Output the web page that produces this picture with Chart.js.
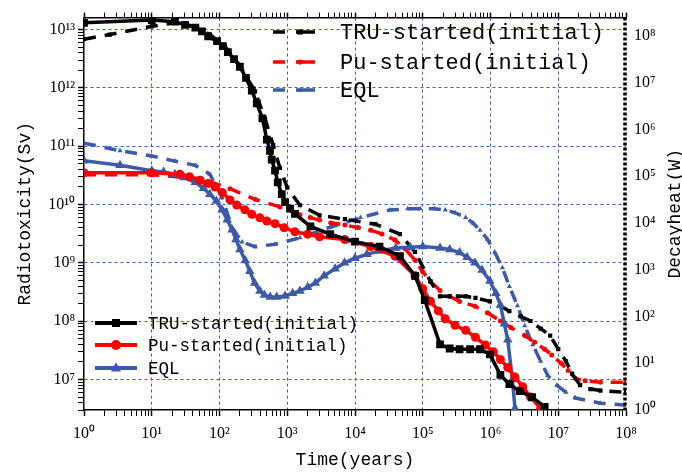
<!DOCTYPE html>
<html lang="en">
<head>
<meta charset="UTF-8">
<title>Radiotoxicity and decay heat</title>
<script src="https://cdn.jsdelivr.net/npm/chart.js"></script>
<style>
  html, body { margin: 0; padding: 0; background: #fff; }
</style>
</head>
<body>
<canvas id="chart" width="682" height="473"></canvas>
<script>
// series names (both legends use the same three)
const seriesNames = ['TRU-started(initial)', 'Pu-started(initial)', 'EQL'];

// radiotoxicity (Sv), left axis -- time in years
const truToxTime = [1, 10, 22, 31, 44, 55, 68, 92, 112, 133, 164, 200, 246, 300, 355, 430, 500, 556, 590, 660, 725, 830, 930, 1100, 1300, 2200, 4300, 1e4, 2.3e4, 4.6e4, 7.7e4, 1.07e5, 1.8e5, 2.5e5, 3.5e5, 5e5, 7e5, 9.8e5, 1.4e6, 1.9e6, 2.7e6, 4.1e6, 6.3e6];
const truTox = [1.3e13, 1.45e13, 1.36e13, 1.2e13, 1.08e13, 9.3e12, 7.6e12, 6.3e12, 5.2e12, 4.1e12, 3.1e12, 2.3e12, 1.48e12, 9e11, 5.4e11, 3e11, 1.3e11, 8.3e10, 5.9e10, 3.8e10, 2.4e10, 1.5e10, 1.1e10, 8.5e9, 6.9e9, 4.2e9, 3.1e9, 2.3e9, 1.9e9, 1.3e9, 6e8, 2.3e8, 4e7, 3.4e7, 3.3e7, 3.3e7, 3.3e7, 2.7e7, 1.2e7, 8.3e6, 6.3e6, 5e6, 3.4e6];

const puToxTime = [1, 10, 26, 36, 52, 68, 86, 110, 143, 180, 237, 300, 395, 500, 660, 900, 1300, 2000, 3000, 7100, 1.7e4, 3.9e4, 7.7e4, 1e5, 1.3e5, 1.7e5, 2.15e5, 3e5, 4.3e5, 6e5, 8.4e5, 1.1e6, 1.4e6, 1.8e6, 2.3e6, 3e6, 3.9e6, 5.5e6];
const puTox = [3.5e10, 3.5e10, 3.3e10, 3.0e10, 2.6e10, 2.3e10, 2e10, 1.6e10, 1.2e10, 9.8e9, 8.1e9, 6.8e9, 5.9e9, 5.2e9, 4.7e9, 4e9, 3.4e9, 3.1e9, 2.8e9, 2.5e9, 1.9e9, 1.3e9, 6e8, 3.6e8, 2.2e8, 1.5e8, 1.1e8, 8.5e7, 7e7, 5.3e7, 3.9e7, 3e7, 2.2e7, 1.6e7, 1.1e7, 7.5e6, 5e6, 3.2e6];

const eqlToxTime = [1, 3.4, 10, 15, 22, 30, 44, 58, 72, 90, 109, 130, 153, 175, 200, 240, 280, 330, 395, 460, 560, 700, 930, 1200, 1540, 2000, 2600, 3500, 5100, 7000, 1e4, 1.5e4, 2.3e4, 4e4, 6.5e4, 1e5, 1.8e5, 2.5e5, 3.5e5, 4.5e5, 5.9e5, 7.5e5, 9.8e5, 1.2e6, 1.4e6, 1.6e6, 1.8e6, 2.1e6, 2.3e6];
const eqlTox = [5.6e10, 4.7e10, 3.8e10, 3.6e10, 3.3e10, 2.9e10, 2.4e10, 1.9e10, 1.5e10, 1.15e10, 8.1e9, 5.5e9, 3.7e9, 2.5e9, 1.7e9, 1.1e9, 7.2e8, 4.5e8, 3.3e8, 2.8e8, 2.6e8, 2.6e8, 2.7e8, 3e8, 3.3e8, 3.8e8, 4.5e8, 6e8, 7.9e8, 1e9, 1.2e9, 1.4e9, 1.6e9, 1.8e9, 1.85e9, 1.9e9, 1.8e9, 1.7e9, 1.5e9, 1.25e9, 1e9, 7.5e8, 4.9e8, 3e8, 1.9e8, 9e7, 4.8e7, 1e7, 3.2e6];

// decay heat (W), right axis
const truHeatTime = [1, 2.4, 10, 22, 44, 72, 120, 200, 335, 470, 620, 780, 1000, 1540, 3000, 7100, 2e4, 4.6e4, 7.7e4, 1.3e5, 1.8e5, 2.5e5, 3.3e5, 4.3e5, 6e5, 9.8e5, 1.4e6, 1.9e6, 2.8e6, 3.9e6, 5.5e6, 7.6e6, 1e7, 1.3e7, 1.6e7, 2.1e7, 3e7, 4.2e7, 1e8];
const truHeat = [8.5e7, 1.07e8, 1.6e8, 1.9e8, 1.6e8, 1.07e8, 6e7, 2.3e7, 6.5e6, 1.7e6, 4.6e5, 1.5e5, 5.7e4, 2.4e4, 1.46e4, 1.2e4, 9.4e3, 5.8e3, 2.4e3, 560, 270, 270, 270, 270, 250, 210, 170, 130, 100, 80, 55, 39, 20, 11, 6, 3.4, 2.8, 2.6, 2.4];

const puHeatTime = [1, 10, 52, 143, 335, 780, 1540, 2200, 3000, 4500, 7100, 1.1e4, 1.7e4, 2.5e4, 3.9e4, 5.5e4, 7.7e4, 1e5, 1.3e5, 1.8e5, 2.5e5, 3.5e5, 5.9e5, 9e5, 1.4e6, 2e6, 3.2e6, 4.5e6, 6.3e6, 8e6, 1.1e7, 1.4e7, 1.8e7, 2.5e7, 4.2e7, 1e8];
const puHeat = [1.07e5, 1.07e5, 8.9e4, 5.4e4, 3.2e4, 2.2e4, 1.5e4, 1.3e4, 1.15e4, 1e4, 9e3, 8e3, 7e3, 5.8e3, 4.3e3, 2.8e3, 1.6e3, 900, 560, 360, 270, 210, 166, 120, 80, 58, 39, 28, 20, 15, 10, 7, 4.7, 4.2, 3.9, 3.9];

const eqlHeatTime = [1, 3.4, 10, 22, 44, 72, 109, 153, 215, 335, 660, 1540, 4300, 1.2e4, 3.3e4, 6e4, 9.2e4, 1.5e5, 2.15e5, 3e5, 4.3e5, 5.5e5, 7e5, 9e5, 1.15e6, 1.5e6, 1.9e6, 2.5e6, 3.2e6, 4.2e6, 5.5e6, 7e6, 9.5e6, 1.3e7, 1.8e7, 4.2e7, 1e8];
const eqlHeat = [5.1e5, 3.5e5, 2.7e5, 2.1e5, 1.7e5, 1.1e5, 3.5e4, 8.1e3, 3.9e3, 3.1e3, 3.5e3, 4.8e3, 8.1e3, 1.3e4, 1.9e4, 2e4, 2e4, 2e4, 1.9e4, 1.65e4, 1.3e4, 1e4, 7e3, 4.5e3, 2.4e3, 1.1e3, 440, 170, 63, 25, 11, 5.5, 3.4, 2.4, 1.8, 1.4, 1.27];

const BLUE = '#3c5aa8';
const GRID = '#3f5fbf';
const colors = ['#000000', '#ff0000', BLUE];
const shapes = ['rect', 'circle', 'triangle'];
const MONO = '"Liberation Mono", monospace';
const SERIF = '"Liberation Serif", serif';

const SUP = {'0':'⁰','1':'¹','2':'²','3':'³','4':'⁴','5':'⁵','6':'⁶','7':'⁷','8':'⁸','9':'⁹','-':'⁻'};
function isDecade(v) {
  const l = Math.log10(v);
  return Math.abs(l - Math.round(l)) < 1e-6;
}
function powLabel(v) {
  if (!isDecade(v)) return '';
  return '10' + String(Math.round(Math.log10(v))).split('').map(c => SUP[c]).join('');
}
// ticks 1..9 x 10^n inside the range
function logTicks(scale) {
  const ticks = [];
  const lo = Math.floor(Math.log10(scale.min));
  const hi = Math.ceil(Math.log10(scale.max));
  for (let e = lo; e <= hi; e++) {
    for (let k = 1; k <= 9; k++) {
      const v = k * Math.pow(10, e);
      if (v >= scale.min * 0.9999 && v <= scale.max * 1.0001) ticks.push({value: v, major: k === 1});
    }
  }
  scale.ticks = ticks;
}
function pts(xs, ys) {
  return xs.map((x, i) => ({x: x, y: ys[i]}));
}
function innerGrid(min, max) {
  return ctx => {
    const v = ctx.tick ? ctx.tick.value : null;
    if (v === null || !isDecade(v)) return 'rgba(0,0,0,0)';
    if (v <= min * 1.0001 || v >= max * 0.9999) return 'rgba(0,0,0,0)';
    return GRID;
  };
}

const xMin = 1, xMax = 1e8;
const yMin = 3.0e6, yMax = 1.6e13;
const y2Min = 1, y2Max = 2.46e8;

function solid(i, xs, ys, r) {
  return {
    label: seriesNames[i], data: pts(xs, ys), yAxisID: 'y',
    borderColor: colors[i], backgroundColor: colors[i],
    borderWidth: 3.5, pointStyle: shapes[i], pointRadius: r,
    pointBorderWidth: 0, tension: 0
  };
}
function dashed(i, xs, ys, r) {
  return {
    label: seriesNames[i], data: pts(xs, ys), yAxisID: 'y2',
    borderColor: colors[i], backgroundColor: colors[i],
    borderWidth: 3.5, borderDash: [12, 9], pointStyle: shapes[i], pointRadius: r,
    pointBorderWidth: 0, tension: 0
  };
}

function marker(ctx, shape, x, y, r, color) {
  ctx.fillStyle = color;
  ctx.beginPath();
  if (shape === 'rect') ctx.rect(x - r, y - r, 2 * r, 2 * r);
  else if (shape === 'circle') ctx.arc(x, y, r, 0, Math.PI * 2);
  else {
    ctx.moveTo(x, y - r * 1.15);
    ctx.lineTo(x + r, y + r * 0.7);
    ctx.lineTo(x - r, y + r * 0.7);
    ctx.closePath();
  }
  ctx.fill();
}

// both legends, right axis title and the dotted right border
const extras = {
  id: 'extras',
  afterDraw(chart) {
    const ctx = chart.ctx;
    const area = chart.chartArea;
    ctx.save();

    // dotted right axis line
    ctx.strokeStyle = '#000';
    ctx.lineWidth = 3.5;
    ctx.setLineDash([3, 2]);
    ctx.beginPath();
    ctx.moveTo(area.right - 1, area.top);
    ctx.lineTo(area.right - 1, area.bottom);
    ctx.stroke();
    ctx.setLineDash([]);

    // decay heat legend (top)
    ctx.textBaseline = 'middle';
    ctx.textAlign = 'left';
    ctx.font = '22px ' + MONO;
    const rows1 = [32, 62, 90];
    seriesNames.forEach((name, i) => {
      const y = rows1[i];
      ctx.strokeStyle = colors[i];
      ctx.lineWidth = 3.5;
      ctx.beginPath();
      ctx.moveTo(273, y); ctx.lineTo(285, y);
      ctx.moveTo(296, y); ctx.lineTo(315, y);
      ctx.stroke();
      marker(ctx, shapes[i], 300, y, 2.6, colors[i]);
      ctx.fillStyle = '#000';
      ctx.fillText(name, 340, y + 1);
    });

    // radiotoxicity legend (bottom left)
    ctx.font = '17.5px ' + MONO;
    const rows2 = [323, 345, 368];
    seriesNames.forEach((name, i) => {
      const y = rows2[i];
      ctx.strokeStyle = colors[i];
      ctx.lineWidth = 4;
      ctx.beginPath();
      ctx.moveTo(95, y); ctx.lineTo(137, y);
      ctx.stroke();
      marker(ctx, shapes[i], 116, y, shapes[i] === 'rect' ? 4 : 5, colors[i]);
      ctx.fillStyle = '#000';
      ctx.fillText(name, 148, y + 1);
    });

    // right axis title, reading upwards
    ctx.translate(680, (area.top + area.bottom) / 2);
    ctx.rotate(-Math.PI / 2);
    ctx.textAlign = 'center';
    ctx.textBaseline = 'alphabetic';
    ctx.font = '18px ' + MONO;
    ctx.fillStyle = '#000';
    ctx.fillText('Decayheat(W)', 0, 0);
    ctx.restore();
  }
};

new Chart(document.getElementById('chart'), {
  type: 'line',
  data: {
    datasets: [
      solid(0, truToxTime, truTox, 5.5),
      solid(1, puToxTime, puTox, 4.5),
      solid(2, eqlToxTime, eqlTox, 5.5),
      dashed(0, truHeatTime, truHeat, 3),
      dashed(1, puHeatTime, puHeat, 2.5),
      dashed(2, eqlHeatTime, eqlHeat, 3)
    ]
  },
  options: {
    responsive: false,
    animation: false,
    layout: { padding: 0 },
    plugins: { legend: { display: false }, tooltip: { enabled: false } },
    scales: {
      x: {
        type: 'logarithmic', position: 'bottom', min: xMin, max: xMax,
        afterBuildTicks: logTicks,
        afterFit: s => { s.height = 63; },
        ticks: { autoSkip: false, maxRotation: 0, minRotation: 0, padding: 8,
          color: '#000', font: { family: SERIF, size: 16 }, callback: v => powLabel(v) },
        grid: { color: innerGrid(xMin, xMax), lineWidth: 1, tickLength: 6, tickColor: '#000',
          tickWidth: c => (c.tick && isDecade(c.tick.value)) ? 1.5 : 1 },
        border: { color: '#000', width: 1.5, dash: [3, 3] },
        title: { display: true, text: 'Time(years)', color: '#000',
          font: { family: MONO, size: 18 }, padding: { top: 0, bottom: 2 } }
      },
      xTop: {
        type: 'logarithmic', position: 'top', min: xMin, max: xMax,
        afterBuildTicks: logTicks,
        afterFit: s => { s.height = 13; },
        ticks: { display: false, autoSkip: false },
        grid: { drawOnChartArea: false, tickLength: 5, tickColor: '#000',
          tickWidth: c => (c.tick && isDecade(c.tick.value)) ? 1.5 : 1 },
        border: { color: '#000', width: 1.5 }
      },
      y: {
        type: 'logarithmic', position: 'left', min: yMin, max: yMax,
        afterBuildTicks: logTicks,
        afterFit: s => { s.width = 84; },
        ticks: { autoSkip: false, padding: 3, color: '#000',
          font: { family: SERIF, size: 16 }, callback: v => powLabel(v) },
        grid: { color: innerGrid(yMin, yMax), lineWidth: 1, tickLength: 6, tickColor: '#000',
          tickWidth: c => (c.tick && isDecade(c.tick.value)) ? 1.5 : 1 },
        border: { color: '#000', width: 1.5, dash: [3, 3] },
        title: { display: true, text: 'Radiotoxicity(Sv)', color: '#000',
          font: { family: MONO, size: 18 }, padding: { top: 14, bottom: 0 } }
      },
      y2: {
        type: 'logarithmic', position: 'right', min: y2Min, max: y2Max,
        afterBuildTicks: logTicks,
        afterFit: s => { s.width = 56; },
        ticks: { autoSkip: false, padding: 8, color: '#000',
          font: { family: SERIF, size: 16 }, callback: v => powLabel(v) },
        grid: { drawOnChartArea: false, drawTicks: false },
        border: { display: false }
      }
    }
  },
  plugins: [extras]
});
</script>
</body>
</html>
